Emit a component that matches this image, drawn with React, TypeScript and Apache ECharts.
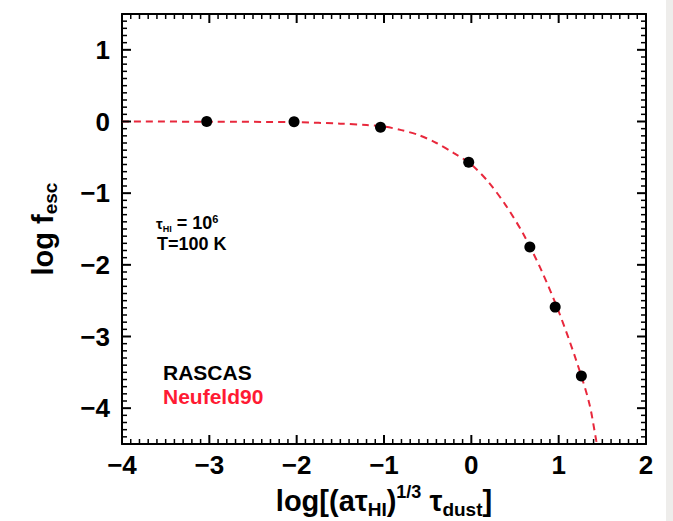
import React, { useEffect, useRef } from "react";
import * as echarts from "echarts";

// RASCAS simulation points
const rascasX = [-3.03, -2.03, -1.04, -0.03, 0.67, 0.96, 1.26];
const rascasY = [0.0, -0.005, -0.08, -0.57, -1.75, -2.59, -3.55];

// Neufeld90 analytic curve
const modelX = [-4.0, -3.0, -2.0, -1.5, -1.2, -1.0, -0.8, -0.6, -0.4, -0.2, 0.0, 0.2, 0.4, 0.6, 0.8, 1.0, 1.2, 1.35, 1.43, 1.47];
const modelY = [0.0, -0.003, -0.01, -0.03, -0.05, -0.07, -0.12, -0.19, -0.3, -0.44, -0.6, -0.85, -1.18, -1.58, -2.07, -2.65, -3.33, -3.93, -4.45, -4.7];

const xTicks = [-4, -3, -2, -1, 0, 1, 2];
const yTicks = [-4, -3, -2, -1, 0, 1];

const FONT = "'Liberation Sans', Arial, Helvetica, sans-serif";
const RED = "#e8283c";

const fmt = (v: number) => (Number.isInteger(v) ? String(v).replace("-", "\u2212") : "");

export default function App() {
  const ref = useRef<HTMLDivElement>(null);
  useEffect(() => {
    if (!ref.current) return;
    const chart = echarts.init(ref.current, null, { renderer: "svg" });

    const xMin = xTicks[0];
    const xMax = xTicks[xTicks.length - 1];
    const yMin = yTicks[0] - 0.5;
    const yMax = yTicks[yTicks.length - 1] + 0.5;

    const line = { show: true, onZero: false, lineStyle: { color: "#000", width: 2 } };
    const xBase = () => ({
      type: "value",
      min: xMin,
      max: xMax,
      interval: 1,
      splitLine: { show: false },
      axisLine: line,
      axisTick: { show: false },
      minorTick: { show: false },
    });
    const yBase = () => ({
      type: "value",
      min: yMin,
      max: yMax,
      splitNumber: 6,
      minInterval: 1,
      maxInterval: 1,
      splitLine: { show: false },
      axisLine: line,
      axisTick: { show: false },
    });

    chart.setOption({
      animation: false,
      backgroundColor: "#ffffff",
      grid: { left: 122, right: 27, top: 14, bottom: 77, containLabel: false, outerBoundsMode: "none" },
      xAxis: [
        {
          ...xBase(),
          position: "bottom",
          axisLabel: {
            show: true,
            margin: 8,
            formatter: fmt,
            fontFamily: FONT,
            fontWeight: "bold",
            fontSize: 26,
            color: "#000",
          },
          name: "{b|log[(a\u03c4}{s|HI}{b|)}{p|1/3}{b| \u03c4}{s|dust}{b|]}",
          nameLocation: "middle",
          nameGap: 38,
          nameTextStyle: {
            fontFamily: FONT,
            fontWeight: "bold",
            color: "#000",
            rich: {
              b: { fontSize: 29, fontWeight: "bold", fontFamily: FONT, lineHeight: 36, verticalAlign: "middle", color: "#000" },
              s: { fontSize: 19, fontWeight: "bold", fontFamily: FONT, lineHeight: 18, verticalAlign: "bottom", color: "#000" },
              p: { fontSize: 18, fontWeight: "bold", fontFamily: FONT, lineHeight: 17, verticalAlign: "top", color: "#000" },
            },
          },
        },
        { ...xBase(), position: "top", axisLabel: { show: false } },
      ],
      yAxis: [
        {
          ...yBase(),
          position: "left",
          axisLabel: {
            show: true,
            margin: 12,
            formatter: fmt,
            showMinLabel: false,
            showMaxLabel: false,
            fontFamily: FONT,
            fontWeight: "bold",
            fontSize: 26,
            color: "#000",
          },
          name: "{b|log f}{s|esc}",
          nameLocation: "middle",
          nameRotate: 90,
          nameGap: 62,
          nameTextStyle: {
            fontFamily: FONT,
            fontWeight: "bold",
            color: "#000",
            rich: {
              b: { fontSize: 29, fontWeight: "bold", fontFamily: FONT, lineHeight: 34, verticalAlign: "middle", color: "#000" },
              s: { fontSize: 19, fontWeight: "bold", fontFamily: FONT, lineHeight: 18, verticalAlign: "bottom", color: "#000" },
            },
          },
        },
        { ...yBase(), position: "right", axisLabel: { show: false } },
      ],
      legend: {
        orient: "vertical",
        left: 153,
        top: 357,
        itemWidth: 0,
        itemHeight: 14,
        itemGap: 3,
        selectedMode: false,
        textStyle: { fontFamily: FONT, fontWeight: "bold", fontSize: 21 },
        data: [
          { name: "RASCAS", icon: "none", textStyle: { color: "#000" } },
          { name: "Neufeld90", icon: "none", textStyle: { color: "#ff1a33" } },
        ],
      },
      graphic: [
        {
          id: "strip",
          type: "rect",
          shape: { x: 666, y: 0, width: 7, height: 521 },
          style: { fill: "#eeedeb" },
          silent: true,
        },
        {
          id: "note1",
          type: "text",
          left: 156,
          top: 213,
          style: {
            text: "{t|\u03c4}{s|HI}{b| = 10}{p|6}",
            rich: {
              t: { fontSize: 15, fontWeight: "bold", fontFamily: FONT, lineHeight: 20, verticalAlign: "middle", fill: "#000" },
              s: { fontSize: 9, fontWeight: "bold", fontFamily: FONT, lineHeight: 12, verticalAlign: "bottom", fill: "#000" },
              b: { fontSize: 18, fontWeight: "bold", fontFamily: FONT, lineHeight: 20, verticalAlign: "middle", fill: "#000" },
              p: { fontSize: 11, fontWeight: "bold", fontFamily: FONT, lineHeight: 11, verticalAlign: "top", fill: "#000" },
            },
          },
        },
        {
          id: "note2",
          type: "text",
          left: 157,
          top: 235,
          style: { text: "T=100 K", fontSize: 18, fontWeight: "bold", fontFamily: FONT, fill: "#000" },
        },
      ],
      series: [
        {
          name: "Neufeld90",
          type: "line",
          xAxisIndex: 0,
          yAxisIndex: 0,
          data: modelX.map((x, i) => [x, modelY[i]]),
          showSymbol: false,
          symbol: "none",
          smooth: 0.3,
          clip: true,
          lineStyle: { color: RED, width: 2, type: [7, 5] },
          itemStyle: { color: RED },
          z: 2,
        },
        {
          name: "RASCAS",
          type: "scatter",
          xAxisIndex: 0,
          yAxisIndex: 0,
          data: rascasX.map((x, i) => [x, rascasY[i]]),
          symbol: "circle",
          symbolSize: 11,
          itemStyle: { color: "#000", opacity: 1 },
          z: 3,
        },
      ],
    });

    // frame tick marks (major every 1, minor every 0.1), placed through the axes' own scales
    const px = (v: number) => Number(chart.convertToPixel({ xAxisIndex: 0 }, v));
    const py = (v: number) => Number(chart.convertToPixel({ yAxisIndex: 0 }, v));
    const left = px(xMin);
    const right = px(xMax);
    const top = py(yMax);
    const bottom = py(yMin);
    const ticks: any[] = [];
    let k = 0;
    for (let i = Math.round(xMin * 10) + 1; i < Math.round(xMax * 10); i++) {
      const major = i % 10 === 0;
      const len = major ? 9 : 5;
      const tw = major ? 2 : 1.5;
      const x = px(i / 10);
      ticks.push({ id: "t" + k++, type: "rect", silent: true, z: 10, shape: { x: x - tw / 2, y: bottom - len, width: tw, height: len }, style: { fill: "#000" } });
      ticks.push({ id: "t" + k++, type: "rect", silent: true, z: 10, shape: { x: x - tw / 2, y: top, width: tw, height: len }, style: { fill: "#000" } });
    }
    for (let i = Math.round(yMin * 10) + 1; i < Math.round(yMax * 10); i++) {
      const major = i % 10 === 0;
      const len = major ? 9 : 5;
      const tw = major ? 2 : 1.5;
      const y = py(i / 10);
      ticks.push({ id: "t" + k++, type: "rect", silent: true, z: 10, shape: { x: left, y: y - tw / 2, width: len, height: tw }, style: { fill: "#000" } });
      ticks.push({ id: "t" + k++, type: "rect", silent: true, z: 10, shape: { x: right - len, y: y - tw / 2, width: len, height: tw }, style: { fill: "#000" } });
    }
    chart.setOption({ graphic: ticks });

    return () => chart.dispose();
  }, []);
  return <div ref={ref} style={{ position: "fixed", left: 0, top: 0, width: 673, height: 521 }} />;
}
